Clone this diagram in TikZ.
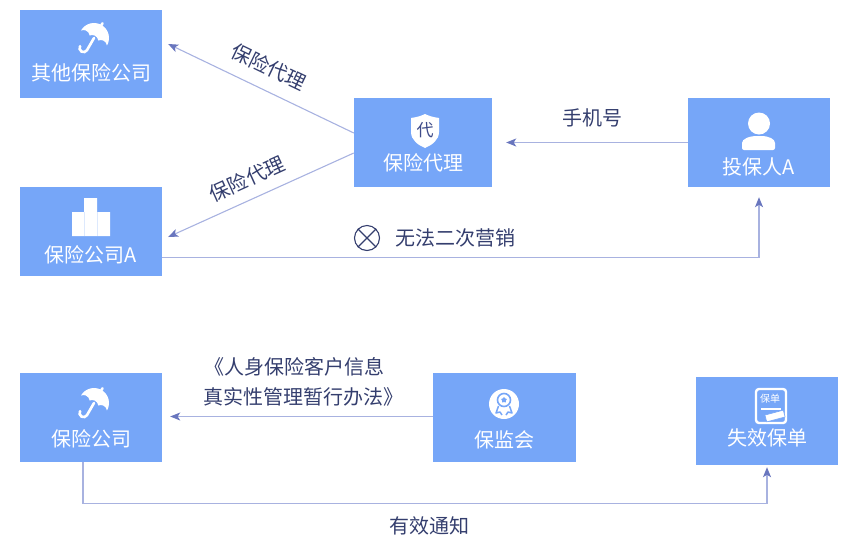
\documentclass[tikz,border=0pt]{standalone}
\usepackage{fontspec}
\setmainfont{Noto Sans CJK SC}
\usepackage{tikz}
\usetikzlibrary{arrows.meta,shapes.geometric}
\definecolor{boxblue}{RGB}{118,166,248}
\definecolor{wireblue}{RGB}{168,178,224}
\definecolor{tipblue}{RGB}{105,118,190}
\definecolor{labelnavy}{RGB}{52,62,110}
\definecolor{sealnavy}{RGB}{63,76,138}
\tikzset{
	card/.style={shape=rectangle, fill=boxblue, inner sep=0, minimum width=142pt, minimum height=89pt},
	cardtext/.style={text=white, font=\fontsize{20}{24}\selectfont, inner sep=0},
	wire/.style={draw=wireblue, line width=1.1pt},
	flow/.style={wire, -{Stealth[length=10pt, width=8pt, inset=2.5pt, color=tipblue]}},
	wirelabel/.style={text=labelnavy, font=\fontsize{20}{24}\selectfont, inner sep=0},
	brolly/.pic={
		\begin{scope}[y=1pt]
		\fill[white] (-15,0) arc[start angle=180, end angle=0, radius=15] arc[start angle=36.87, end angle=143.13, radius=6.25] arc[start angle=36.87, end angle=143.13, radius=6.25] arc[start angle=36.87, end angle=143.13, radius=6.25] -- cycle;
		\draw[white, line width=2.6pt, line cap=round] (0,0) -- (0,-14) arc[start angle=0, end angle=-180, radius=4];
		\draw[white, line width=2.6pt, line cap=round] (0,14) -- (0,17);
		\end{scope}
	},
}

\begin{document}
\begin{tikzpicture}[x=1pt, y=-1pt]
	\useasboundingbox (0,0) rectangle (850,539);
	% Paths, nodes and wires:
	\node[card, minimum height=88pt](Rect1) at (91, 54){} node[cardtext] at ([yshift=-19pt]Rect1.center){其他保险公司};
	\pic[rotate=-30] at (94, 38) {brolly};
	\node[card](Rect2) at (91, 231.5){} node[cardtext] at ([yshift=-23.5pt]Rect2.center){保险公司A};
	\fill[white] (72, 212) rectangle (84, 236) (84, 198) rectangle (97, 236) (97, 212) rectangle (110, 236);
	\draw[boxblue!25, line width=0.8pt] (84, 212) -- (84, 236) (97, 212) -- (97, 236);
	\node[card, minimum width=138pt](Rect3) at (423, 142.5){} node[cardtext] at ([yshift=-20.5pt]Rect3.center){保险代理};
	\fill[white] (411, 118) .. controls (418, 117) and (422, 115.5) .. (425, 114) .. controls (428, 115.5) and (432, 117) .. (439, 118) -- (439, 132) .. controls (439, 140) and (432, 145) .. (425, 148) .. controls (418, 145) and (411, 140) .. (411, 132) -- cycle;
	\node[text=sealnavy, font=\fontsize{17}{19}\selectfont, inner sep=0] (Seal) at (425, 130.5){代};
	\node[card](Rect4) at (759, 142.5){} node[cardtext] at ([yshift=-24.5pt]Rect4.center){投保人A};
	\fill[white] (759, 123.5) circle[radius=11];
	\fill[white, rounded corners=2pt] (742, 150) -- (742, 145) .. controls (742, 139) and (749, 136) .. (759, 136) .. controls (769, 136) and (775, 139) .. (775, 145) -- (775, 150) -- cycle;
	\node[card](Rect5) at (91, 417.5){} node[cardtext] at ([yshift=-21.5pt]Rect5.center){保险公司};
	\pic[rotate=-30] at (94, 403) {brolly};
	\node[card, minimum width=143pt](Rect6) at (504.5, 417.5){} node[cardtext] at ([yshift=-22.5pt]Rect6.center){保监会};
	\fill[white] (504, 404) circle[radius=15];
	\draw[boxblue, line width=1.6pt] (504, 400) circle[radius=6.5];
	\node[star, star points=5, fill=boxblue, minimum size=6pt, inner sep=0] (Badge) at (504, 400){};
	\draw[boxblue, line width=1.5pt, line join=round] (498.5, 406) -- (496, 413) -- (500, 412) -- (502, 415) (509.5, 406) -- (512, 413) -- (508, 412) -- (506, 415);
	\node[card, minimum height=88pt](Rect7) at (767, 421){} node[cardtext] at ([yshift=-17pt]Rect7.center){失效保单};
	\draw[white, line width=2.4pt, rounded corners=3pt] (756, 389) rectangle (786, 423);
	\node[text=white, font=\fontsize{10}{11}\selectfont, inner sep=0] (Tag) at (770, 399){保单};
	\draw[white, line width=1.4pt] (761, 409) -- (781, 409);
	\node[fill=white, draw=boxblue, line width=0.6pt, rotate=15, minimum width=19pt, minimum height=7pt, inner sep=0] (Stamp) at (775, 416){};
	\draw[flow] ([yshift=9.5pt]Rect3.west) -- ([xshift=6pt, yshift=10pt]Rect1.east);
	\draw[flow] ([yshift=-10.5pt]Rect3.west) -- ([xshift=6pt, yshift=-5.5pt]Rect2.east);
	\draw[flow] (Rect4.west) -- ([xshift=14pt]Rect3.east);
	\draw[flow] ([yshift=-26pt]Rect2.east) -| ([yshift=-10pt]Rect4.south);
	\draw[flow] ([yshift=1pt]Rect6.west) -- ([xshift=8pt, yshift=1pt]Rect5.east);
	\draw[flow] ([xshift=-8pt]Rect5.south) -- ++(0, 41) -| ([yshift=-2pt]Rect7.south);
	\node[wirelabel, rotate=-25.6] (Lbl1) at (269, 67){保险代理};
	\node[wirelabel, rotate=24.3] (Lbl2) at (247, 179){保险代理};
	\node[wirelabel] (Lbl3) at (592, 118){手机号};
	\node[circle, draw=labelnavy, line width=1.1pt, minimum size=25pt, inner sep=0] (Nox) at (367, 238){};
	\draw[labelnavy, line width=1.1pt] (Nox.north west) -- (Nox.south east) (Nox.north east) -- (Nox.south west);
	\node[wirelabel] (Lbl4) at (455, 238){无法二次营销};
	\node[wirelabel] (Lbl5) at (294, 367){《人身保险客户信息};
	\node[wirelabel] (Lbl6) at (303, 397){真实性管理暂行办法》};
	\node[wirelabel] (Lbl7) at (429, 526){有效通知};
\end{tikzpicture}
\end{document}
